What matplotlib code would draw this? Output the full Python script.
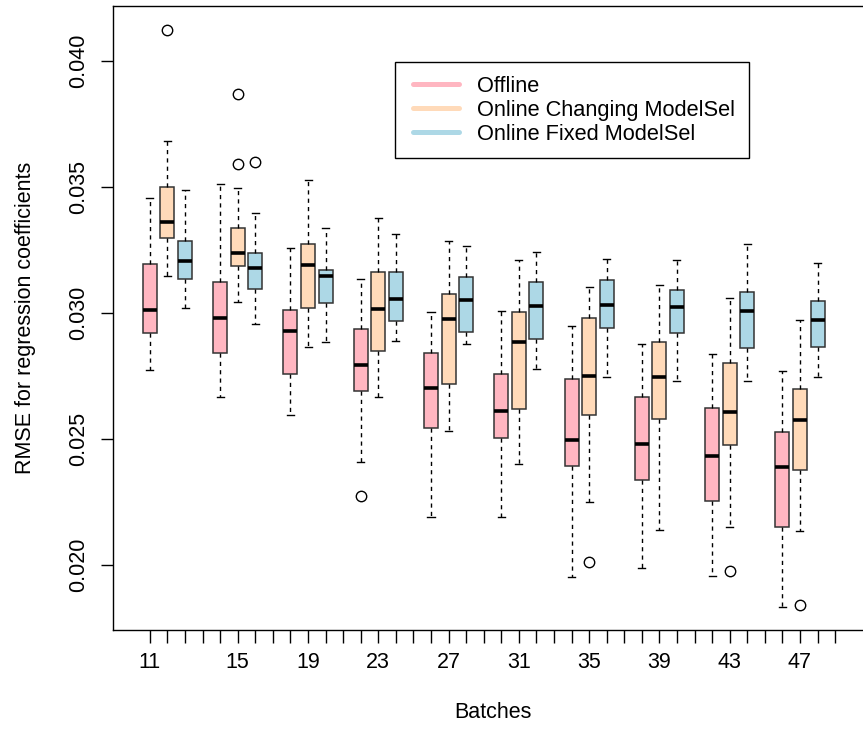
import numpy as np
import matplotlib
matplotlib.use("Agg")
import matplotlib.pyplot as plt
from matplotlib.lines import Line2D
from matplotlib.legend_handler import HandlerLine2D
from matplotlib.ticker import FixedLocator, FixedFormatter

plt.rcParams['font.family'] = ['Liberation Sans', 'DejaVu Sans']

# ---------------- data ----------------
batches = ["11", "15", "19", "23", "27", "31", "35", "39", "43", "47"]
series_names = ["Offline", "Online Changing ModelSel", "Online Fixed ModelSel"]
colors = ["#FFB6C1", "#FFDAB9", "#ADD8E6"]

offline_whishi = [0.03458, 0.03513, 0.03257, 0.03135, 0.03004, 0.03009, 0.02950, 0.02876, 0.02839, 0.02769]
offline_q3 = [0.03196, 0.03123, 0.03013, 0.02936, 0.02841, 0.02758, 0.02737, 0.02667, 0.02624, 0.02527]
offline_med = [0.03011, 0.02979, 0.02927, 0.02792, 0.02701, 0.02611, 0.02497, 0.02479, 0.02433, 0.02388]
offline_q1 = [0.02922, 0.02840, 0.02759, 0.02692, 0.02545, 0.02503, 0.02394, 0.02336, 0.02255, 0.02152]
offline_whislo = [0.02774, 0.02668, 0.02594, 0.02409, 0.02189, 0.02189, 0.01951, 0.01987, 0.01956, 0.01835]
offline_fliers = [[], [], [], [0.02274], [], [], [], [], [], []]

changing_whishi = [0.03682, 0.03496, 0.03528, 0.03378, 0.03286, 0.03209, 0.03103, 0.03110, 0.03061, 0.02971]
changing_q3 = [0.03501, 0.03337, 0.03273, 0.03161, 0.03075, 0.03004, 0.02981, 0.02886, 0.02802, 0.02697]
changing_med = [0.03360, 0.03239, 0.03190, 0.03017, 0.02976, 0.02885, 0.02750, 0.02746, 0.02606, 0.02577]
changing_q1 = [0.03299, 0.03188, 0.03020, 0.02848, 0.02718, 0.02618, 0.02595, 0.02578, 0.02477, 0.02376]
changing_whislo = [0.03148, 0.03045, 0.02864, 0.02667, 0.02533, 0.02401, 0.02250, 0.02138, 0.02151, 0.02135]
changing_fliers = [[0.04123], [0.03868, 0.03591], [], [], [], [], [0.02012], [], [0.01976], [0.01843]]

fixed_whishi = [0.03489, 0.03398, 0.03338, 0.03315, 0.03267, 0.03243, 0.03213, 0.03210, 0.03274, 0.03198]
fixed_q3 = [0.03284, 0.03239, 0.03171, 0.03161, 0.03142, 0.03122, 0.03132, 0.03090, 0.03083, 0.03046]
fixed_med = [0.03205, 0.03177, 0.03146, 0.03054, 0.03052, 0.03027, 0.03033, 0.03025, 0.03007, 0.02971]
fixed_q1 = [0.03136, 0.03096, 0.03040, 0.02967, 0.02923, 0.02898, 0.02940, 0.02919, 0.02862, 0.02864]
fixed_whislo = [0.03020, 0.02958, 0.02885, 0.02888, 0.02878, 0.02779, 0.02745, 0.02730, 0.02729, 0.02747]
fixed_fliers = [[], [0.03600], [], [], [], [], [], [], [], []]

yticks = [0.020, 0.025, 0.030, 0.035, 0.040]

series = [
    (offline_whislo, offline_q1, offline_med, offline_q3, offline_whishi, offline_fliers),
    (changing_whislo, changing_q1, changing_med, changing_q3, changing_whishi, changing_fliers),
    (fixed_whislo, fixed_q1, fixed_med, fixed_q3, fixed_whishi, fixed_fliers),
]

# ---------------- figure ----------------
W, H = 863, 731
fig = plt.figure(figsize=(W / 100, H / 100), dpi=100)
ax_left, ax_right, ax_top, ax_bottom = 113, 872, 6, 630
ax = fig.add_axes([ax_left / W, 1 - ax_bottom / H, (ax_right - ax_left) / W, (ax_bottom - ax_top) / H])

FS = 15.5
n_groups = len(batches)
for s, (wlo, q1, med, q3, whi, fl) in enumerate(series):
    stats = []
    for k in range(n_groups):
        stats.append(dict(whislo=wlo[k], q1=q1[k], med=med[k], q3=q3[k], whishi=whi[k], fliers=fl[k]))
    positions = [1 + 4 * k + s for k in range(n_groups)]
    ax.bxp(stats, positions=positions, widths=0.8, patch_artist=True, manage_ticks=False,
           boxprops=dict(facecolor=colors[s], edgecolor='#333333', linewidth=1.1),
           medianprops=dict(color='black', linewidth=2.6, solid_capstyle='butt'),
           whiskerprops=dict(color='black', linewidth=1.0, linestyle=(0, (3, 3))),
           capprops=dict(color='black', linewidth=1.0),
           flierprops=dict(marker='o', markerfacecolor='none', markeredgecolor='black',
                           markersize=7.5, markeredgewidth=1.0, linestyle='none'))

ax.set_xlim(-1.1, 42.1)
ax.set_ylim(0.017421, 0.042181)

# x ticks: one per slot, labels as in reference
tick_pos = list(range(1, 4 * n_groups + 1))
label_pos = [1] + [4 * k + 2 for k in range(1, n_groups)]
tick_labels = []
for p in tick_pos:
    tick_labels.append(batches[label_pos.index(p)] if p in label_pos else "")
ax.xaxis.set_major_locator(FixedLocator(tick_pos))
ax.xaxis.set_major_formatter(FixedFormatter(tick_labels))

ax.set_yticks(yticks)
ax.set_yticklabels([f"{v:.3f}" for v in yticks], rotation=90, va='center')

ax.tick_params(axis='both', direction='out', length=9, width=1.0, labelsize=FS, color='black')
ax.tick_params(axis='x', pad=6.5)
ax.tick_params(axis='y', pad=8)

for sp in ax.spines.values():
    sp.set_linewidth(1.0)
    sp.set_color('black')

ax.set_xlabel("Batches", fontsize=FS)
ax.xaxis.set_label_coords(0.5, -0.1154)
ax.set_ylabel("RMSE for regression coefficients", fontsize=FS)
ax.yaxis.set_label_coords(-0.1008, 0.5)


class ShiftedLineHandler(HandlerLine2D):
    """Legend line starting a little to the right inside its handle box."""
    def get_xdata(self, legend, xdescent, ydescent, width, height, fontsize):
        shift = 0.21 * fontsize
        xdata = np.array([-xdescent + shift, -xdescent + width])
        return xdata, xdata


LFS = 15.7
handles = [Line2D([], [], color=c, lw=3.6, solid_capstyle='round') for c in colors]
leg = ax.legend(handles, series_names, loc='upper left',
                bbox_to_anchor=(395 / W, 1 - 62 / H), bbox_transform=fig.transFigure,
                frameon=True, fancybox=False, edgecolor='black', framealpha=1,
                borderpad=0.62, labelspacing=0.14, handlelength=2.3, handletextpad=0.84,
                borderaxespad=0, fontsize=LFS,
                handler_map={Line2D: ShiftedLineHandler()})
leg.get_frame().set_linewidth(1.0)

fig.savefig("out.png", dpi=100)
